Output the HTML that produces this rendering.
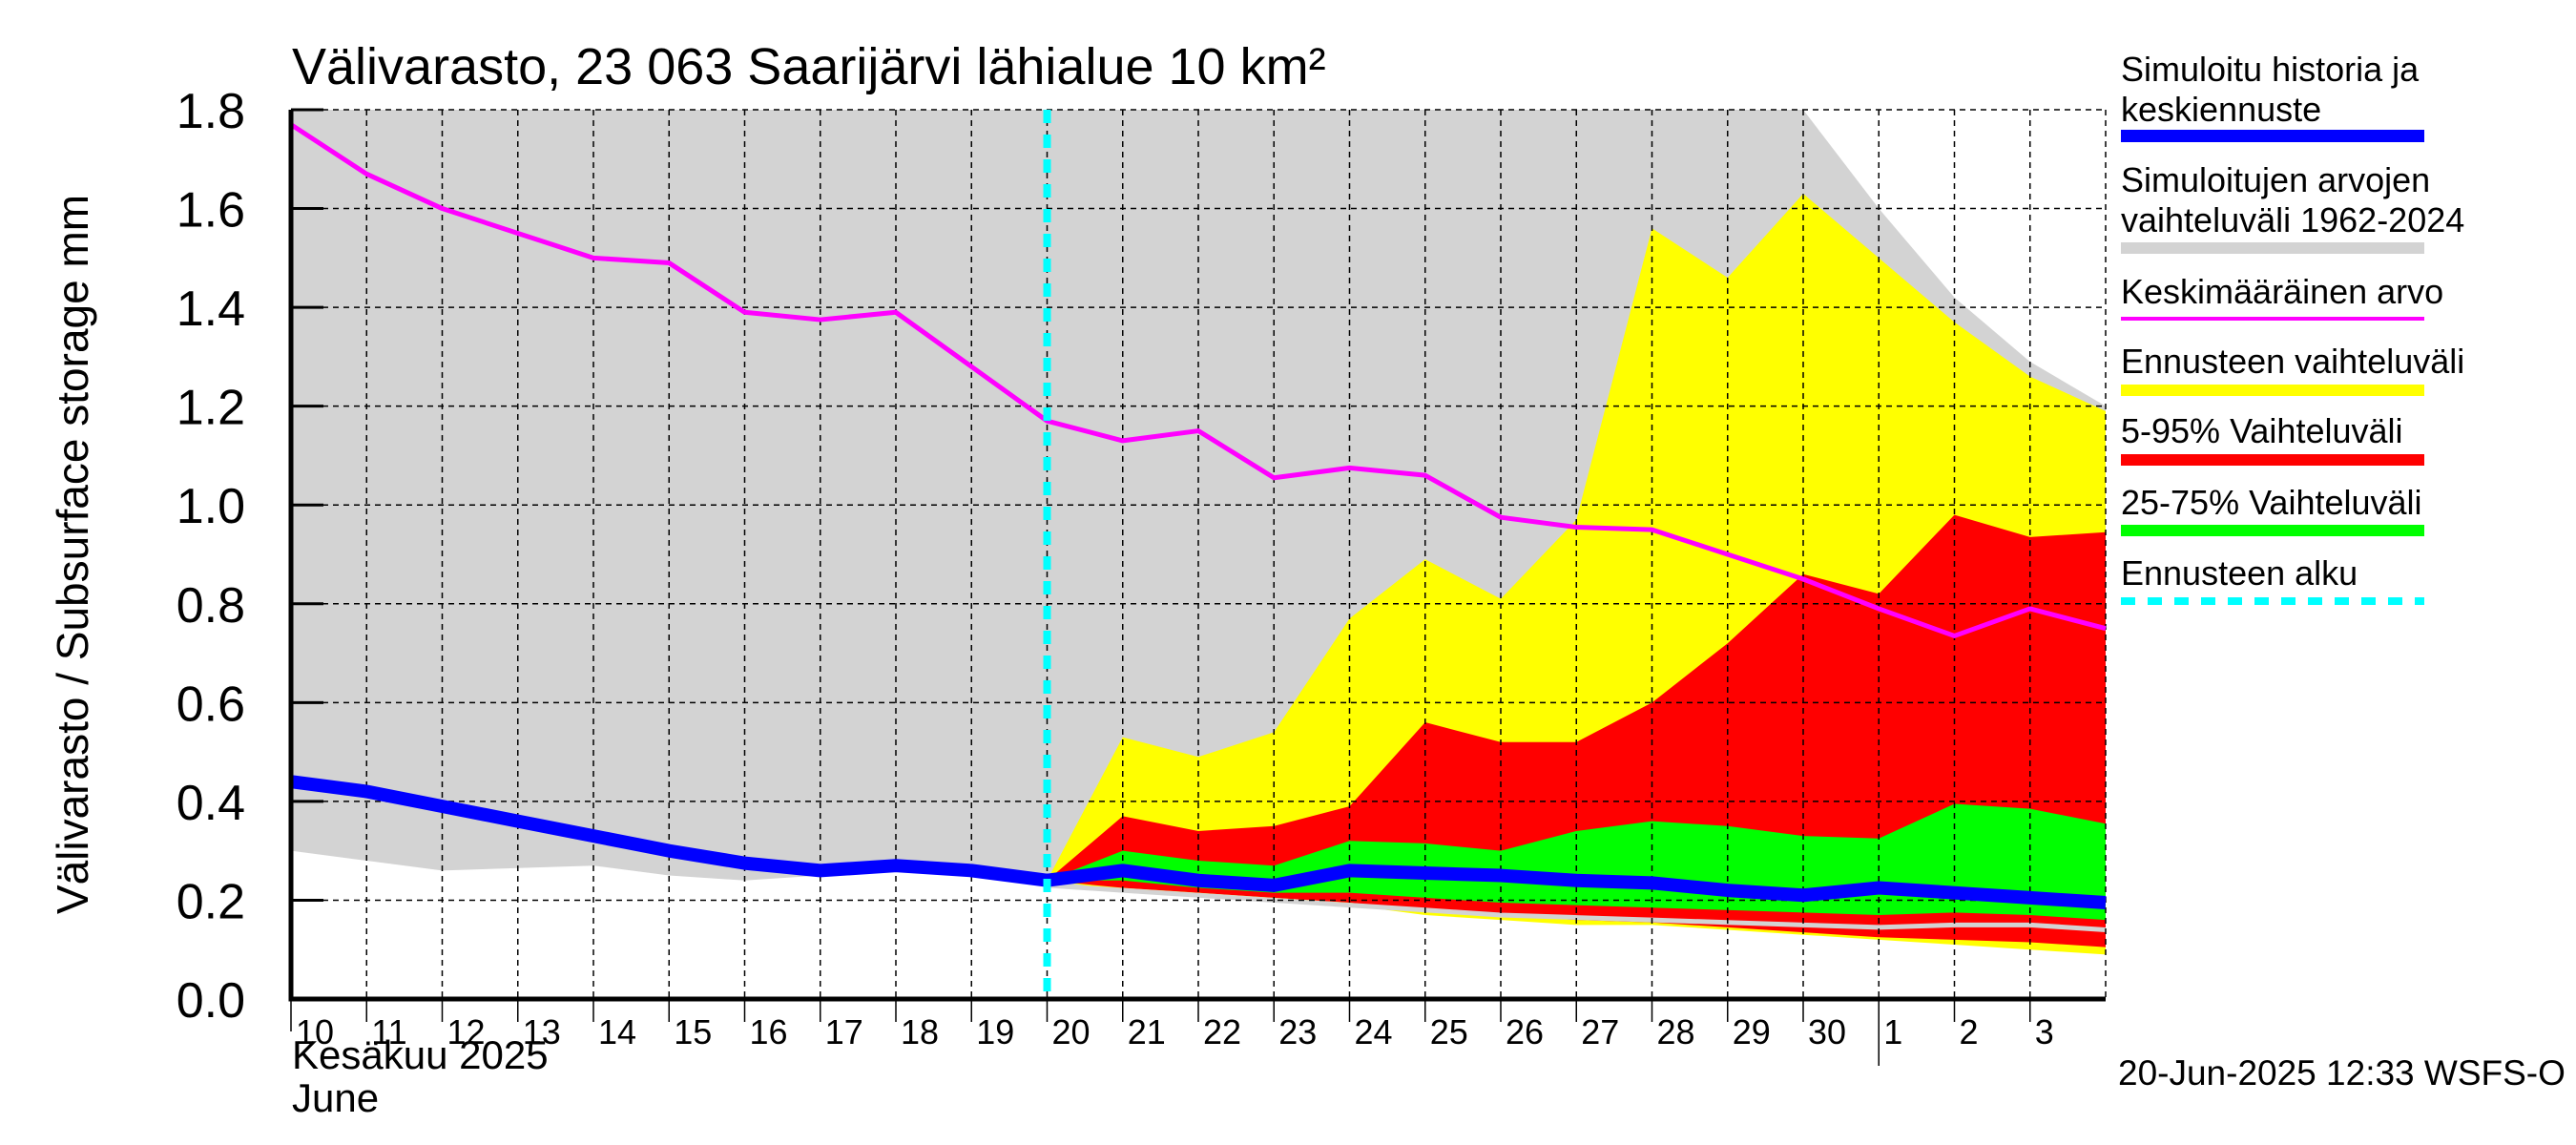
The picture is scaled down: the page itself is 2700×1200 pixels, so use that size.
<!DOCTYPE html>
<html><head><meta charset="utf-8"><style>
body{margin:0;background:#fff}
svg{display:block;font-family:"Liberation Sans",sans-serif}
</style></head><body>
<svg id="c" width="2700" height="1200" viewBox="0 0 2700 1200">
<g id="plot"></g>
</svg>
<script>
const days=["10","11","12","13","14","15","16","17","18","19","20","21","22","23","24","25","26","27","28","29","30","1","2","3"];
const yTicks=["0.0","0.2","0.4","0.6","0.8","1.0","1.2","1.4","1.6","1.8"];
const grayUpper=[1.8,1.8,1.8,1.8,1.8,1.8,1.8,1.8,1.8,1.8,1.8,1.8,1.8,1.8,1.8,1.8,1.8,1.8,1.8,1.8,1.8,1.6,1.42,1.29,1.2];
const grayLower=[0.30,0.28,0.26,0.265,0.27,0.25,0.24,0.25,0.26,0.25,0.23,0.22,0.21,0.2,0.19,0.18,0.17,0.165,0.16,0.155,0.15,0.145,0.15,0.15,0.14];
const meanVals=[1.77,1.67,1.60,1.55,1.50,1.49,1.39,1.375,1.39,1.28,1.17,1.13,1.15,1.055,1.075,1.06,0.975,0.955,0.95,0.90,0.85,0.79,0.735,0.79,0.75];
const simVals=[0.44,0.42,0.39,0.36,0.33,0.30,0.275,0.26,0.27,0.26,0.24,0.26,0.24,0.23,0.26,0.255,0.25,0.24,0.235,0.22,0.21,0.225,0.215,0.205,0.195];
const yelU=[0.24,0.53,0.49,0.54,0.77,0.89,0.81,0.97,1.56,1.46,1.63,1.50,1.37,1.26,1.19];
const yelL=[0.24,0.22,0.21,0.20,0.19,0.17,0.16,0.15,0.15,0.14,0.13,0.12,0.11,0.10,0.09];
const redU=[0.24,0.37,0.34,0.35,0.39,0.56,0.52,0.52,0.60,0.72,0.86,0.82,0.98,0.935,0.945];
const redL=[0.24,0.225,0.215,0.205,0.195,0.18,0.17,0.16,0.155,0.145,0.135,0.125,0.12,0.115,0.105];
const grnU=[0.24,0.30,0.28,0.27,0.32,0.315,0.30,0.34,0.36,0.35,0.33,0.325,0.395,0.385,0.355];
const grnL=[0.24,0.24,0.225,0.215,0.215,0.205,0.195,0.19,0.185,0.18,0.175,0.17,0.175,0.17,0.16];
const fcStart=10;

const L=305,R=2207,T=115,B=1047,ND=24,YMAX=1.8;
const X=i=>L+(R-L)*i/ND;
const Y=v=>B-(B-T)*v/YMAX;
const NS="http://www.w3.org/2000/svg";
const g=document.getElementById('plot');
function el(t,a,p){const e=document.createElementNS(NS,t);for(const k in a)e.setAttribute(k,a[k]);(p||g).appendChild(e);return e;}
function band(up,lo,off,fill,name){
  let pts=up.map((v,i)=>X(i+off)+","+Y(v));
  for(let i=lo.length-1;i>=0;i--)pts.push(X(i+off)+","+Y(lo[i]));
  const e=el('polygon',{points:pts.join(" "),fill:fill});
  
  
}
function line(vals,off,stroke,w,name,dash){
  const e=el('polyline',{points:vals.map((v,i)=>X(i+off)+","+Y(v)).join(" "),fill:"none",stroke:stroke,"stroke-width":w,"stroke-linejoin":"round"});
  if(dash)e.setAttribute('stroke-dasharray',dash);
  
  
}
band(grayUpper,grayLower,0,"#d3d3d3","historical-range-band");
band(yelU,yelL,fcStart,"#ffff00","forecast-range-band");
band(redU,redL,fcStart,"#ff0000","p5-95-band");
band(grnU,grnL,fcStart,"#00ff00","p25-75-band");
line(grayLower.slice(fcStart),fcStart,"#d3d3d3",5,"historical-range-lower-line");
// grid
for(let i=1;i<ND;i++){
  const e=el('line',{x1:X(i),x2:X(i),y1:T,y2:B,stroke:"#000","stroke-width":1.5,"stroke-dasharray":"6,5"});
  
}
const er=el('line',{x1:R,x2:R,y1:T,y2:B,stroke:"#000","stroke-width":1.5,"stroke-dasharray":"6,5"});

yTicks.forEach((t,i)=>{
  const v=parseFloat(t);
  if(i>0){const e=el('line',{x1:L,x2:R,y1:Y(v),y2:Y(v),stroke:"#000","stroke-width":1.5,"stroke-dasharray":"6,5"});
  
  const k=el('line',{x1:L,x2:L+34,y1:Y(v),y2:Y(v),stroke:"#000","stroke-width":3});
  }
  const tx=el('text',{x:L-48,y:Y(v)+19,"font-size":52,"text-anchor":"end"});tx.textContent=t;
  
});
line(meanVals,0,"#ff00ff",5,"mean-line");
line(simVals,0,"#0000ff",14,"simulated-line");
const cy=el('line',{x1:X(fcStart),x2:X(fcStart),y1:T,y2:B,stroke:"#00ffff","stroke-width":8,"stroke-dasharray":"14,12"});

// axes
const ax=el('path',{d:`M${L},${T} V${B} H${R}`,fill:"none",stroke:"#000","stroke-width":5});

days.forEach((d,i)=>{
  const k=el('line',{x1:X(i),x2:X(i),y1:B,y2:B+(i==0?34:24),stroke:"#000","stroke-width":1.5});
  
  const t=el('text',{x:X(i)+5,y:B+47,"font-size":36});t.textContent=d;
  
});
const mb=el('line',{x1:X(21),x2:X(21),y1:B,y2:1117,stroke:"#000","stroke-width":1.5});

</script>
<svg width="0" height="0" style="position:absolute"></svg>
<script>
const s=document.getElementById('c');
s.insertAdjacentHTML('beforeend',`
<text x="306" y="88" font-size="54">Välivarasto, 23 063 Saarijärvi lähialue 10 km²</text>
<text transform="translate(92,581) rotate(-90)" font-size="46" text-anchor="middle">Välivarasto / Subsurface storage  mm</text>
<text x="306" y="1120" font-size="42">Kesäkuu   2025</text>
<text x="306" y="1165" font-size="42">June</text>
<text x="2220" y="1137" font-size="37">20-Jun-2025 12:33 WSFS-O</text>
<g font-size="36">
<text x="2223" y="85">Simuloitu historia ja</text>
<text x="2223" y="127">keskiennuste</text>
<rect x="2223" y="136" width="318" height="13" fill="#0000ff"/>
<text x="2223" y="201">Simuloitujen arvojen</text>
<text x="2223" y="243">vaihteluväli 1962-2024</text>
<rect x="2223" y="254" width="318" height="12" fill="#d3d3d3"/>
<text x="2223" y="318">Keskimääräinen arvo</text>
<rect x="2223" y="332" width="318" height="4" fill="#ff00ff"/>
<text x="2223" y="391">Ennusteen vaihteluväli</text>
<rect x="2223" y="403" width="318" height="12" fill="#ffff00"/>
<text x="2223" y="464">5-95% Vaihteluväli</text>
<rect x="2223" y="476" width="318" height="12" fill="#ff0000"/>
<text x="2223" y="539">25-75% Vaihteluväli</text>
<rect x="2223" y="550" width="318" height="12" fill="#00ff00"/>
<text x="2223" y="613">Ennusteen alku</text>
<line x1="2223" x2="2541" y1="630" y2="630" stroke="#00ffff" stroke-width="8" stroke-dasharray="15,13"/>
</g>`);
</script>
</body></html>
